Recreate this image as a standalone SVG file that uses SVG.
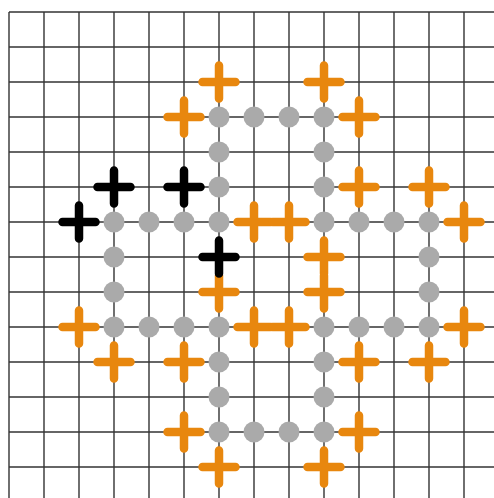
<svg xmlns="http://www.w3.org/2000/svg" width="494" height="498" viewBox="0 0 494 498">
<style>
.g line{stroke:#333;stroke-width:1.4}
.d{fill:#aaaaaa}
.o{stroke:#e8870e;stroke-width:8.5;stroke-linecap:round;fill:none}
.k{stroke:#000;stroke-width:8.5;stroke-linecap:round;fill:none}
</style>
<defs>
<path id="p" d="M-16.5,0H16.5M0,-16.5V16.5"/>
</defs>
<rect width="494" height="498" fill="#fff"/>
<g id="connectors" class="g">
<line x1="9" y1="12" x2="9" y2="498"/>
<line x1="44" y1="12" x2="44" y2="498"/>
<line x1="79" y1="12" x2="79" y2="498"/>
<line x1="114" y1="12" x2="114" y2="498"/>
<line x1="149" y1="12" x2="149" y2="498"/>
<line x1="184" y1="12" x2="184" y2="498"/>
<line x1="219" y1="12" x2="219" y2="498"/>
<line x1="254" y1="12" x2="254" y2="498"/>
<line x1="289" y1="12" x2="289" y2="498"/>
<line x1="324" y1="12" x2="324" y2="498"/>
<line x1="359" y1="12" x2="359" y2="498"/>
<line x1="394" y1="12" x2="394" y2="498"/>
<line x1="429" y1="12" x2="429" y2="498"/>
<line x1="464" y1="12" x2="464" y2="498"/>
<line x1="9" y1="12" x2="494" y2="12"/>
<line x1="9" y1="47" x2="494" y2="47"/>
<line x1="9" y1="82" x2="494" y2="82"/>
<line x1="9" y1="117" x2="494" y2="117"/>
<line x1="9" y1="152" x2="494" y2="152"/>
<line x1="9" y1="187" x2="494" y2="187"/>
<line x1="9" y1="222" x2="494" y2="222"/>
<line x1="9" y1="257" x2="494" y2="257"/>
<line x1="9" y1="292" x2="494" y2="292"/>
<line x1="9" y1="327" x2="494" y2="327"/>
<line x1="9" y1="362" x2="494" y2="362"/>
<line x1="9" y1="397" x2="494" y2="397"/>
<line x1="9" y1="432" x2="494" y2="432"/>
<line x1="9" y1="467" x2="494" y2="467"/>
</g>
<g id="dots" class="d">
<circle cx="219" cy="117" r="10.5"/><circle cx="254" cy="117" r="10.5"/><circle cx="289" cy="117" r="10.5"/><circle cx="324" cy="117" r="10.5"/>
<circle cx="219" cy="152" r="10.5"/><circle cx="324" cy="152" r="10.5"/>
<circle cx="219" cy="187" r="10.5"/><circle cx="324" cy="187" r="10.5"/>
<circle cx="114" cy="222" r="10.5"/><circle cx="149" cy="222" r="10.5"/><circle cx="184" cy="222" r="10.5"/><circle cx="219" cy="222" r="10.5"/>
<circle cx="324" cy="222" r="10.5"/><circle cx="359" cy="222" r="10.5"/><circle cx="394" cy="222" r="10.5"/><circle cx="429" cy="222" r="10.5"/>
<circle cx="114" cy="257" r="10.5"/><circle cx="429" cy="257" r="10.5"/>
<circle cx="114" cy="292" r="10.5"/><circle cx="429" cy="292" r="10.5"/>
<circle cx="114" cy="327" r="10.5"/><circle cx="149" cy="327" r="10.5"/><circle cx="184" cy="327" r="10.5"/><circle cx="219" cy="327" r="10.5"/>
<circle cx="324" cy="327" r="10.5"/><circle cx="359" cy="327" r="10.5"/><circle cx="394" cy="327" r="10.5"/><circle cx="429" cy="327" r="10.5"/>
<circle cx="219" cy="362" r="10.5"/><circle cx="324" cy="362" r="10.5"/>
<circle cx="219" cy="397" r="10.5"/><circle cx="324" cy="397" r="10.5"/>
<circle cx="219" cy="432" r="10.5"/><circle cx="254" cy="432" r="10.5"/><circle cx="289" cy="432" r="10.5"/><circle cx="324" cy="432" r="10.5"/>
</g>
<g id="orange-crosses" class="o">
<use href="#p" x="219" y="82"/><use href="#p" x="324" y="82"/>
<use href="#p" x="184" y="117"/><use href="#p" x="359" y="117"/>
<use href="#p" x="359" y="187"/><use href="#p" x="429" y="187"/>
<use href="#p" x="254" y="222"/><use href="#p" x="289" y="222"/><use href="#p" x="464" y="222"/>
<use href="#p" x="324" y="257"/>
<use href="#p" x="219" y="292"/><use href="#p" x="324" y="292"/>
<use href="#p" x="79" y="327"/><use href="#p" x="254" y="327"/><use href="#p" x="289" y="327"/><use href="#p" x="464" y="327"/>
<use href="#p" x="114" y="362"/><use href="#p" x="184" y="362"/><use href="#p" x="359" y="362"/><use href="#p" x="429" y="362"/>
<use href="#p" x="184" y="432"/><use href="#p" x="359" y="432"/>
<use href="#p" x="219" y="467"/><use href="#p" x="324" y="467"/>
</g>
<g id="black-crosses" class="k">
<use href="#p" x="114" y="187"/><use href="#p" x="184" y="187"/>
<use href="#p" x="79" y="222"/>
<use href="#p" x="219" y="257"/>
</g>
</svg>
